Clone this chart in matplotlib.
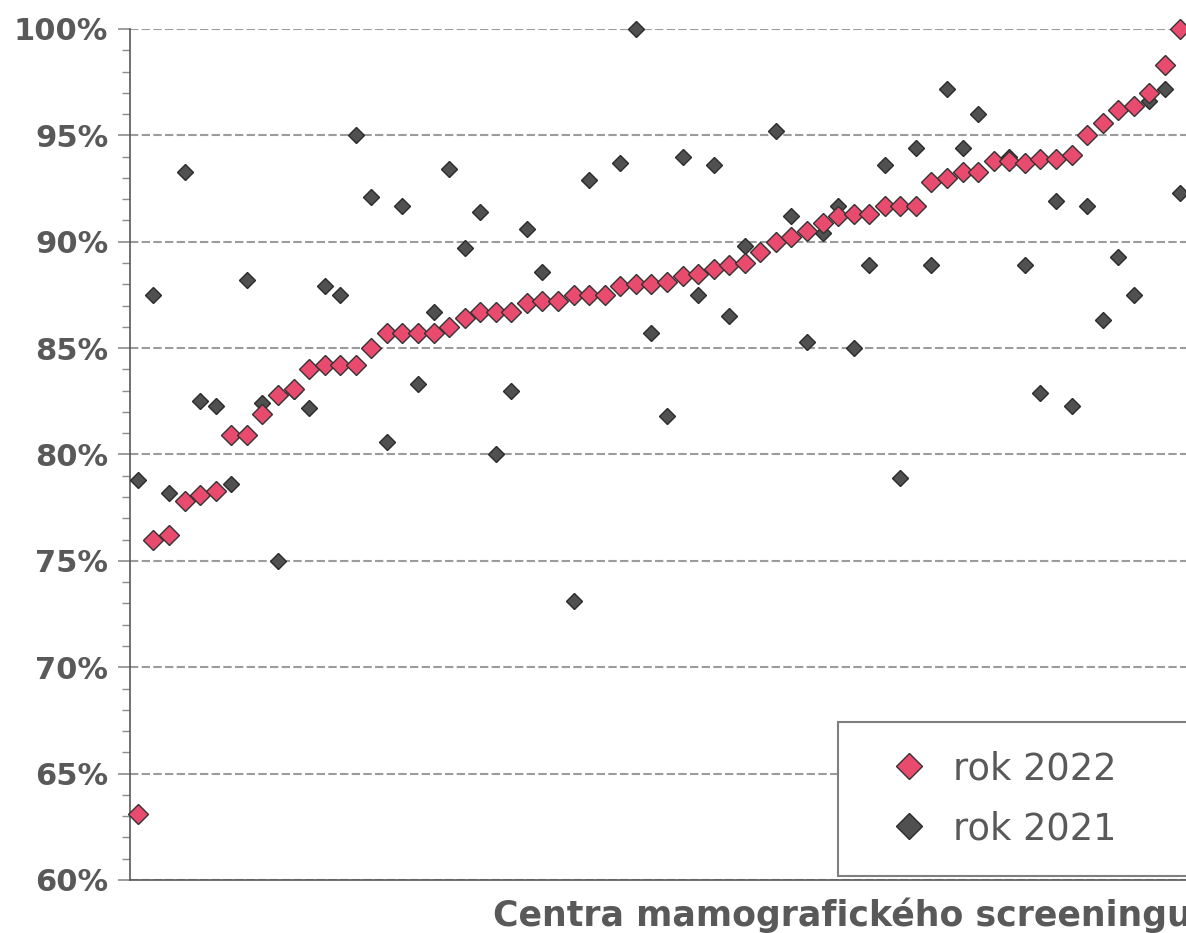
import numpy as np
import matplotlib
matplotlib.use("Agg")
import matplotlib.pyplot as plt
from matplotlib.ticker import MultipleLocator, FuncFormatter

plt.rcParams['font.family'] = ['DejaVu Sans']

# values per screening centre (%), centres sorted by 2022 result
rok_2022 = [63.1, 76.0, 76.2, 77.8, 78.1, 78.3, 80.9, 80.9, 81.9, 82.8,
            83.1, 84.0, 84.2, 84.2, 84.2, 85.0, 85.7, 85.7, 85.7, 85.7,
            86.0, 86.4, 86.7, 86.7, 86.7, 87.1, 87.2, 87.2, 87.5, 87.5,
            87.5, 87.9, 88.0, 88.0, 88.1, 88.4, 88.5, 88.7, 88.9, 89.0,
            89.5, 90.0, 90.2, 90.5, 90.9, 91.2, 91.3, 91.3, 91.7, 91.7,
            91.7, 92.8, 93.0, 93.3, 93.3, 93.8, 93.8, 93.7, 93.9, 93.9,
            94.1, 95.0, 95.6, 96.2, 96.4, 97.0, 98.3, 100.0]

rok_2021 = [78.8, 87.5, 78.2, 93.3, 82.5, 82.3, 78.6, 88.2, 82.4, 75.0,
            83.0, 82.2, 87.9, 87.5, 95.0, 92.1, 80.6, 91.7, 83.3, 86.7,
            93.4, 89.7, 91.4, 80.0, 83.0, 90.6, 88.6, 87.2, 73.1, 92.9,
            87.5, 93.7, 100.0, 85.7, 81.8, 94.0, 87.5, 93.6, 86.5, 89.8,
            89.5, 95.2, 91.2, 85.3, 90.4, 91.7, 85.0, 88.9, 93.6, 78.9,
            94.4, 88.9, 97.2, 94.4, 96.0, 93.8, 94.0, 88.9, 82.9, 91.9,
            82.3, 91.7, 86.3, 89.3, 87.5, 96.6, 97.2, 92.3]

labels = ['rok 2022', 'rok 2021']
x_title = 'Centra mamografického screeningu'

red = '#E94B6E'
dark = '#505050'
text_grey = '#595959'

W, H = 1186, 933
fig = plt.figure(figsize=(W / 100, H / 100), dpi=100)

# the original chart is wider than the picture, so the axes run past the right edge
ax_w = 1300
ax = fig.add_axes([130 / W, 53 / H, ax_w / W, 851 / H])

x = np.arange(1, len(rok_2022) + 1)

ax.plot(x, rok_2021, linestyle='none', marker='D', markersize=8.4,
        markerfacecolor=dark, markeredgecolor='#2b2b2b', markeredgewidth=1.0,
        label=labels[1], zorder=3, clip_on=False)
ax.plot(x, rok_2022, linestyle='none', marker='D', markersize=10.2,
        markerfacecolor=red, markeredgecolor='#333333', markeredgewidth=1.0,
        label=labels[0], zorder=4, clip_on=False)

ax.set_xlim(0.49, 0.49 + ax_w / 15.56)
ax.set_ylim(60, 100)

ax.yaxis.set_major_locator(MultipleLocator(5))
ax.yaxis.set_minor_locator(MultipleLocator(1))
ax.yaxis.set_major_formatter(FuncFormatter(lambda v, p: '{:d}%'.format(int(round(v)))))
ax.set_xticks([])

ax.tick_params(axis='y', which='major', length=8.6, width=1.2, color='#8c8c8c',
               pad=7, labelsize=22, labelcolor=text_grey)
ax.tick_params(axis='y', which='minor', length=5.8, width=1.0, color='#8c8c8c')
for lab in ax.get_yticklabels():
    lab.set_fontweight('bold')

ax.grid(axis='y', which='major', color='#9c9c9c', linestyle=(0, (4, 1.6)), linewidth=1.5)
ax.set_axisbelow(True)

for s in ['top', 'right']:
    ax.spines[s].set_visible(False)
ax.spines['left'].set_color(text_grey)
ax.spines['bottom'].set_color(text_grey)
ax.spines['left'].set_linewidth(1.2)
ax.spines['bottom'].set_linewidth(1.2)

# legend box, also running out of the picture on the right
handles, labs = ax.get_legend_handles_labels()
leg = fig.legend(handles[::-1], labs[::-1], loc='upper left',
                 bbox_to_anchor=(838 / W, 1 - 870 / H, 500 / W, 148 / H),
                 mode='expand', borderaxespad=0, fontsize=26.5,
                 handlelength=2.3, handletextpad=0.05, labelspacing=0.62,
                 borderpad=0.77, fancybox=False, framealpha=1,
                 edgecolor='#7f7f7f', labelcolor=text_grey)
leg.get_frame().set_linewidth(1.5)
for h in leg.legend_handles:
    h.set_markersize(13.2)

fig.text(493 / W, 1 - 926 / H, x_title, ha='left', va='baseline',
         fontsize=25, fontweight='bold', color=text_grey)

fig.savefig('out.png', dpi=100)
